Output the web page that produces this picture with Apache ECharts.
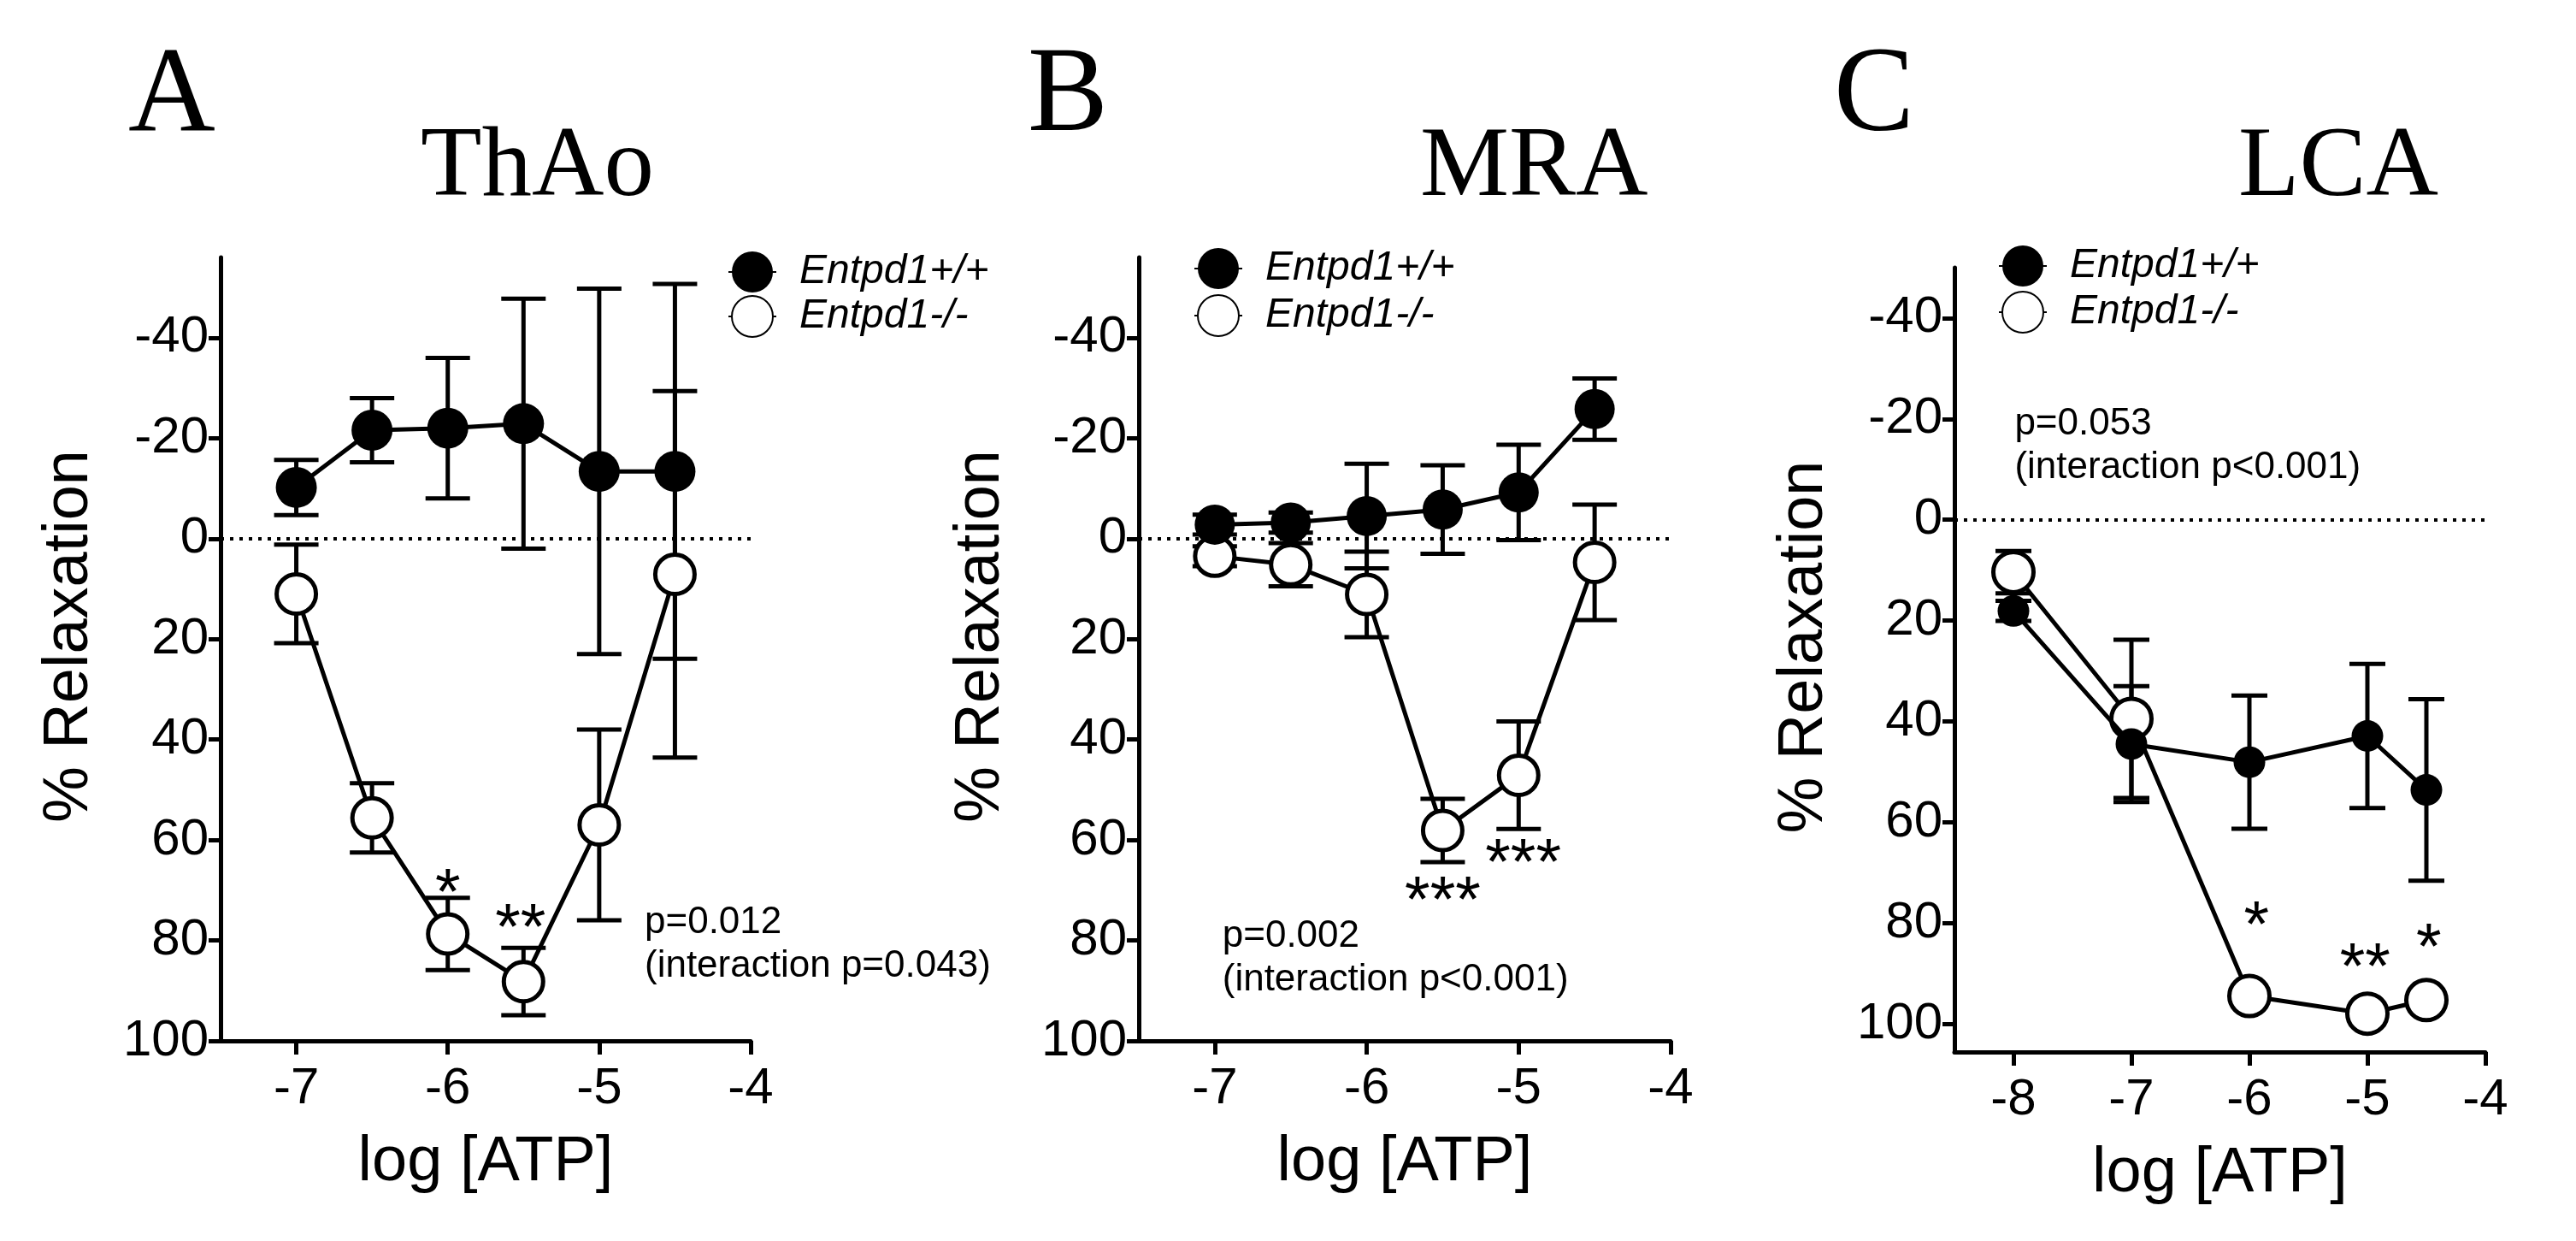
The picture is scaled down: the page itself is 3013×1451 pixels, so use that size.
<!DOCTYPE html>
<html>
<head>
<meta charset="utf-8">
<script src="https://cdn.jsdelivr.net/npm/echarts@6/dist/echarts.min.js"></script>
<style>
    html, body {margin: 0; padding: 0; background: #fff;}
    #chart {width: 3013px; height: 1451px;}
</style>
</head>
<body>
<div id="chart"></div>
<script>
// x positions (log [ATP])
const xAB = [-7, -6.5, -6, -5.5, -5, -4.5];
const xC = [-8, -7, -6, -5, -4.5];

// A - ThAo
const thaoWT = [-10.2, -21.6, -22.0, -22.9, -13.4, -13.4];
const thaoWTsem = [5.5, 6.4, 14.0, 24.9, 36.4, 37.3];
const thaoKO = [11.0, 55.6, 78.7, 88.2, 57.0, 7.1];
const thaoKOsem = [9.8, 6.9, 7.2, 6.7, 19.0, 36.5];

// B - MRA
const mraWT = [-2.8, -3.2, -4.5, -5.8, -9.2, -25.8];
const mraWTsem = [2, 2, 10.4, 8.8, 9.5, 6.1];
const mraKO = [3.5, 5.2, 11.1, 58.1, 47.1, 4.7];
const mraKOsem = [2, 4.3, 8.5, 6.3, 10.7, 11.5];

// C - LCA
const lcaWT = [18.1, 44.5, 48.1, 42.9, 53.6];
const lcaWTsem = [2, 11.5, 13.2, 14.3, 18.0];
const lcaKO = [10.4, 39.5, 94.5, 98.0, 95.3];
const lcaKOsem = [4.2, 15.7, 2, 2, 2];

// ticks
const yTicks = [-40, -20, 0, 20, 40, 60, 80, 100];
const xTicksAB = [-7, -6, -5, -4];
const xTicksC = [-8, -7, -6, -5, -4];

const legendNames = ['Entpd1+/+', 'Entpd1-/-'];
const panelLetters = ['A', 'B', 'C'];
const panelTitles = ['ThAo', 'MRA', 'LCA'];

// significance stars [x, y, text]
const starsA = [[-6, 71.0, '*'], [-5.52, 78.0, '**']];
const starsB = [[-5.5, 72.6, '***'], [-4.97, 65.1, '***']];
const starsC = [[-5.94, 81.0, '*'], [-5.02, 89.3, '**'], [-4.48, 85.4, '*']];

// p value notes [x, y, text]
const pNotes = [
    [-4.70, 80.8, 'p=0.012\n(interaction p=0.043)'],
    [-6.95, 83.5, 'p=0.002\n(interaction p<0.001)'],
    [-7.99, -14.6, 'p=0.053\n(interaction p<0.001)']
];

const sans = 'Liberation Sans';
const serif = 'Liberation Serif';

let myChart = echarts.init(document.getElementById('chart'), null, {renderer: 'canvas'});

const panels = [
    {x: xAB, wt: thaoWT, wtSem: thaoWTsem, ko: thaoKO, koSem: thaoKOsem, stars: starsA,
        grid: {left: 258, top: 301, width: 620, height: 916}, xMin: -7.5, xTicks: xTicksAB,
        yMin: -56, yMax: 100, nameGap: 139, wtSize: 48, koSize: 46, cap: 52,
        legend: {left: 846, top: 289, itemGap: 3}},
    {x: xAB, wt: mraWT, wtSem: mraWTsem, ko: mraKO, koSem: mraKOsem, stars: starsB,
        grid: {left: 1332, top: 301, width: 622, height: 916}, xMin: -7.5, xTicks: xTicksAB,
        yMin: -56, yMax: 100, nameGap: 147, wtSize: 47, koSize: 46, cap: 52,
        legend: {left: 1391, top: 285, itemGap: 6}},
    {x: xC, wt: lcaWT, wtSem: lcaWTsem, ko: lcaKO, koSem: lcaKOsem, stars: starsC,
        grid: {left: 2286, top: 313, width: 621, height: 917}, xMin: -8.5, xTicks: xTicksC,
        yMin: -50, yMax: 105.6, nameGap: 138, wtSize: 37, koSize: 47, cap: 42,
        legend: {left: 2332, top: 282, itemGap: 5}}
];

function errorBars(cap) {
    return function (params, api) {
        let top = api.coord([api.value(0), api.value(1)]);
        let bot = api.coord([api.value(0), api.value(2)]);
        let st = {stroke: '#000', lineWidth: 5};
        return {
            type: 'group',
            children: [
                {type: 'line', shape: {x1: top[0], y1: top[1], x2: bot[0], y2: bot[1]}, style: st},
                {type: 'line', shape: {x1: top[0] - cap / 2, y1: top[1], x2: top[0] + cap / 2, y2: top[1]}, style: st},
                {type: 'line', shape: {x1: bot[0] - cap / 2, y1: bot[1], x2: bot[0] + cap / 2, y2: bot[1]}, style: st}
            ]
        };
    };
}

let grids = [], xAxes = [], yAxes = [], series = [], legends = [], graphics = [];

panels.forEach((p, i) => {
    grids.push(p.grid);
    xAxes.push({
        type: 'value', gridIndex: i, min: p.xMin, max: -4,
        axisLine: {onZero: false, lineStyle: {color: '#000', width: 5}},
        axisTick: {customValues: p.xTicks, length: 16, lineStyle: {color: '#000', width: 5}},
        axisLabel: {customValues: p.xTicks, fontSize: 60, fontFamily: sans, color: '#000', margin: 26},
        splitLine: {show: false},
        name: 'log [ATP]', nameLocation: 'middle', nameGap: 106,
        nameTextStyle: {fontSize: 74, fontFamily: sans, color: '#000'}
    });
    yAxes.push({
        type: 'value', gridIndex: i, min: p.yMin, max: p.yMax, inverse: true,
        axisLine: {show: true, onZero: false, lineStyle: {color: '#000', width: 5}},
        axisTick: {show: true, customValues: yTicks, length: 14, lineStyle: {color: '#000', width: 5}},
        axisLabel: {customValues: yTicks, fontSize: 60, fontFamily: sans, color: '#000', margin: 14},
        splitLine: {show: false},
        name: '% Relaxation', nameLocation: 'middle', nameGap: p.nameGap,
        nameTextStyle: {fontSize: 74, fontFamily: sans, color: '#000', padding: [0, 0, 0, 30]}
    });

    let tag = panelLetters[i] + ':';
    let wtName = tag + legendNames[0], koName = tag + legendNames[1];

    series.push({
        type: 'custom', xAxisIndex: i, yAxisIndex: i, z: 1, silent: true,
        renderItem: errorBars(p.cap),
        data: p.x.map((x, k) => [x, p.wt[k] - p.wtSem[k], p.wt[k] + p.wtSem[k]])
    });
    series.push({
        type: 'custom', xAxisIndex: i, yAxisIndex: i, z: 1, silent: true,
        renderItem: errorBars(p.cap),
        data: p.x.map((x, k) => [x, p.ko[k] - p.koSem[k], p.ko[k] + p.koSem[k]])
    });
    series.push({
        name: koName, type: 'line', xAxisIndex: i, yAxisIndex: i, z: 3,
        symbol: 'circle', symbolSize: p.koSize,
        itemStyle: {color: '#fff', borderColor: '#000', borderWidth: 5},
        lineStyle: {color: '#000', width: 5},
        data: p.x.map((x, k) => [x, p.ko[k]])
    });
    series.push({
        name: wtName, type: 'line', xAxisIndex: i, yAxisIndex: i, z: 4,
        symbol: 'circle', symbolSize: p.wtSize,
        itemStyle: {color: '#000', borderColor: '#000', borderWidth: 0},
        lineStyle: {color: '#000', width: 5},
        data: p.x.map((x, k) => [x, p.wt[k]]),
        markLine: {
            silent: true, symbol: ['none', 'none'], label: {show: false},
            lineStyle: {color: '#000', width: 4, type: [4, 7]},
            data: [{yAxis: 0}]
        }
    });
    // stars
    series.push({
        type: 'scatter', xAxisIndex: i, yAxisIndex: i, z: 5, silent: true,
        symbolSize: 1, itemStyle: {color: 'rgba(0,0,0,0)', opacity: 1},
        label: {show: true, position: 'inside', formatter: d => d.name, opacity: 1,
            fontSize: 76, fontFamily: sans, color: '#000', textBorderWidth: 0},
        data: p.stars.map(s => ({value: [s[0], s[1]], name: s[2]}))
    });
    // p value note
    series.push({
        type: 'scatter', xAxisIndex: i, yAxisIndex: i, z: 5, silent: true,
        symbolSize: 1, itemStyle: {color: 'rgba(0,0,0,0)', opacity: 1},
        label: {show: true, position: 'inside', align: 'left', verticalAlign: 'middle', opacity: 1,
            formatter: d => d.name, fontSize: 44, lineHeight: 51, fontFamily: sans, color: '#000',
            textBorderWidth: 0},
        data: [{value: [pNotes[i][0], pNotes[i][1]], name: pNotes[i][2]}]
    });

    legends.push({
        data: [wtName, koName], orient: 'vertical',
        left: p.legend.left, top: p.legend.top, itemGap: p.legend.itemGap,
        itemWidth: 56, itemHeight: 60, selectedMode: false,
        formatter: n => '{t|' + n.split(':')[1] + '}',
        textStyle: {
            rich: {t: {fontSize: 48, fontStyle: 'italic', fontFamily: sans, color: '#000', padding: [0, 0, 0, 22]}}
        }
    });
});

// panel letters and titles
const letterPos = [[150, 115], [1202, 115], [2145, 115]];
const titlePos = [[492, 197], [1661, 197], [2618, 197]];
panelLetters.forEach((t, i) => {
    graphics.push({type: 'text', silent: true, style: {text: t, x: letterPos[i][0], y: letterPos[i][1],
        font: '141px "' + serif + '"', fill: '#000', align: 'left', verticalAlign: 'middle'}});
    graphics.push({type: 'text', silent: true, style: {text: panelTitles[i], x: titlePos[i][0], y: titlePos[i][1],
        font: '117px "' + serif + '"', fill: '#000', align: 'left', verticalAlign: 'middle'}});
});

let option = {
    animation: false,
    backgroundColor: '#fff',
    grid: grids,
    xAxis: xAxes,
    yAxis: yAxes,
    legend: legends,
    graphic: graphics,
    series: series
};

myChart.setOption(option);
</script>
</body>
</html>
